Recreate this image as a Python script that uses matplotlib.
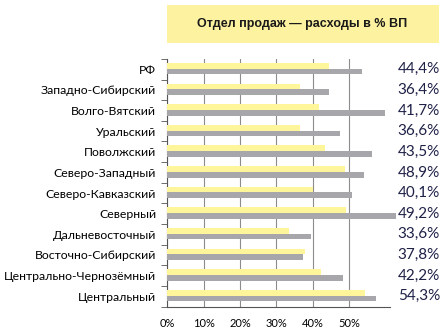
import matplotlib.pyplot as plt
import matplotlib.patches as mpatches
import matplotlib.transforms as mtransforms
import numpy as np

# регионы сверху вниз
regions = ['РФ', 'Западно-Сибирский', 'Волго-Вятский', 'Уральский', 'Поволжский',
           'Северо-Западный', 'Северо-Кавказский', 'Северный', 'Дальневосточный',
           'Восточно-Сибирский', 'Центрально-Чернозёмный', 'Центральный']
# расходы отдела продаж, % ВП (жёлтые полосы, подписи справа)
sales = [44.4, 36.4, 41.7, 36.6, 43.5, 48.9, 40.1, 49.2, 33.6, 37.8, 42.2, 54.3]
# второй ряд (серые полосы)
other = [53.6, 44.5, 59.9, 47.5, 56.2, 54.1, 50.7, 63.0, 39.5, 37.2, 48.4, 57.5]

yellow = '#FFF59A'
gray = '#A7A7AB'

fig = plt.figure(figsize=(4.45, 3.35), dpi=100)
ax = fig.add_axes([0.376, 0.085, 0.5, 0.739])

y = np.arange(len(regions))
h = 0.28
ax.barh(y - 0.17, sales, height=h, color=yellow, zorder=3)
ax.barh(y + 0.11, other, height=h, color=gray, zorder=3, clip_on=False)

ax.set_xlim(0, 61.2)
ax.set_ylim(len(regions) - 0.5, -0.5)
ax.set_xticks([0, 10, 20, 30, 40, 50])
ax.set_xticklabels(['%d%%' % v for v in [0, 10, 20, 30, 40, 50]], fontsize=8, family='Lato')
ax.set_yticks(y)
ax.set_yticklabels(regions, fontsize=8.8, family='Lato')
ax.set_yticks(np.arange(len(regions) + 1) - 0.5, minor=True)
ax.tick_params(axis='y', which='major', length=0, pad=8)
ax.tick_params(axis='y', which='minor', length=4, direction='out', color='#555555')
ax.tick_params(axis='x', length=0, pad=8)
ax.grid(axis='x', color='#8C8C8C', linewidth=0.8, zorder=0)
for s in ['top', 'right']:
    ax.spines[s].set_visible(False)
ax.spines['left'].set_color('#555555')
ax.spines['bottom'].set_color('#555555')

# подписи значений справа
tr = mtransforms.blended_transform_factory(fig.transFigure, ax.transData)
for i, v in enumerate(sales):
    ax.text(440 / 445, i, ('%.1f%%' % v).replace('.', ','), ha='right', va='center',
            fontsize=11, color='#1F2147', family='Lato', transform=tr)

# заголовок в жёлтой плашке
fig.patches.append(mpatches.Rectangle((167 / 445, 1 - 43 / 335), 272 / 445, 38 / 335,
                                      transform=fig.transFigure, facecolor='#FCF2A0',
                                      edgecolor='none'))
fig.text(302 / 445, 1 - 24 / 335, 'Отдел продаж — расходы в % ВП', ha='center', va='center',
         fontsize=9, fontweight='bold', color='#1A1A1A', family='Liberation Sans')

fig.savefig('out.png', dpi=100)
